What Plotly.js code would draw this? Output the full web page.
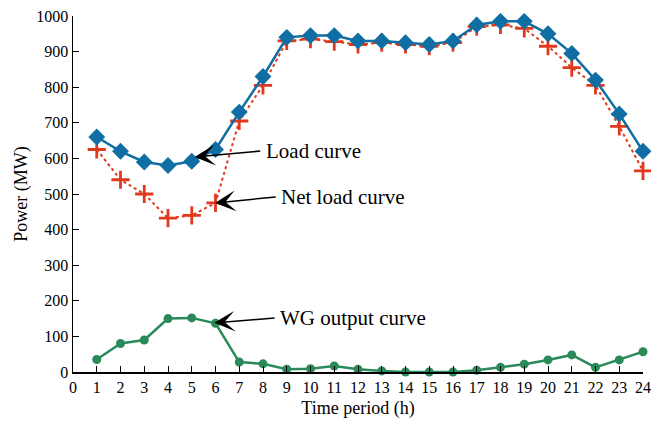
<!DOCTYPE html>
<html>
<head>
<meta charset="utf-8">
<script src="https://cdn.plot.ly/plotly-3.0.1.min.js"></script>
<style>html,body{margin:0;padding:0;background:#fff;}#chart{width:651px;height:421px;}</style>
</head>
<body>
<div id="chart"></div>
<script>
const hours = [1,2,3,4,5,6,7,8,9,10,11,12,13,14,15,16,17,18,19,20,21,22,23,24];
const loadCurve = [660,620,590,580,592,625,730,830,940,945,945,930,930,925,920,930,975,985,985,950,895,820,725,620];
const netLoadCurve = [625,540,500,432,440,475,705,805,930,935,928,920,925,920,915,925,970,975,965,915,855,805,690,565];
const wgOutput = [35,80,90,150,152,137,28,23,8,9,17,8,3,0,0,0,5,13,22,34,48,13,34,57];
const xTicks = [0,1,2,3,4,5,6,7,8,9,10,11,12,13,14,15,16,17,18,19,20,21,22,23,24];
const yTicks = [0,100,200,300,400,500,600,700,800,900,1000];
const labels = ["Load curve", "Net load curve", "WG output curve"];
// arrow tips and tails (data units)
const arrowTipX = [5.12, 5.98, 5.95];
const arrowTipY = [604, 475, 138];
const arrowTailX = [7.95, 8.6, 8.55];
const arrowTailY = [621, 492, 152];

const serif = "Liberation Serif, Times New Roman, serif";
const blue = "#0f6ea3", red = "#e0391c", green = "#2b8a5a";

const traces = [
  {x: hours, y: wgOutput, mode: "lines+markers", cliponaxis: false,
   line: {color: green, width: 2.5}, marker: {symbol: "circle", size: 9, color: green}},
  {x: hours, y: netLoadCurve, mode: "lines+markers", cliponaxis: false,
   line: {color: red, width: 2, dash: "dot"},
   marker: {symbol: "cross-thin", size: 13, color: red, line: {color: red, width: 2.8}}},
  {x: hours, y: loadCurve, mode: "lines+markers", cliponaxis: false,
   line: {color: blue, width: 2.5}, marker: {symbol: "diamond", size: 13, color: blue}}
];

const annotations = [];
for (let i = 0; i < labels.length; i++) {
  annotations.push({x: arrowTipX[i], y: arrowTipY[i], xref: "x", yref: "y",
    ax: arrowTailX[i], ay: arrowTailY[i], axref: "x", ayref: "y",
    text: "", showarrow: true, arrowhead: 3, arrowsize: 2.3, arrowwidth: 1.5, arrowcolor: "#000"});
  annotations.push({x: arrowTailX[i], y: arrowTailY[i], xref: "x", yref: "y",
    text: labels[i], showarrow: false, xanchor: "left", yanchor: "middle", xshift: 2,
    font: {family: serif, size: 21, color: "#000"}});
}

const layout = {
  width: 651, height: 421,
  margin: {l: 73, r: 8, t: 16, b: 49},
  paper_bgcolor: "#fff", plot_bgcolor: "#fff",
  showlegend: false,
  font: {family: serif, color: "#000"},
  xaxis: {range: [0, 24], tickvals: xTicks, ticktext: xTicks.map(String),
    ticks: "inside", ticklen: 6, tickwidth: 1, tickcolor: "#000",
    showline: true, linecolor: "#000", linewidth: 1.5, mirror: false,
    showgrid: false, zeroline: false,
    tickfont: {family: serif, size: 16, color: "#000"},
    title: {text: "Time period (h)", font: {family: serif, size: 18, color: "#000"}, standoff: 6}},
  yaxis: {range: [0, 1000], tickvals: yTicks, ticktext: yTicks.map(String),
    ticks: "inside", ticklen: 6, tickwidth: 1, tickcolor: "#000",
    showline: true, linecolor: "#000", linewidth: 1.5, mirror: false,
    showgrid: false, zeroline: false,
    tickfont: {family: serif, size: 16, color: "#000"},
    title: {text: "Power (MW)", font: {family: serif, size: 18, color: "#000"}, standoff: 4}},
  annotations: annotations
};

Plotly.newPlot("chart", traces, layout, {displayModeBar: false, staticPlot: true});
</script>
</body>
</html>
